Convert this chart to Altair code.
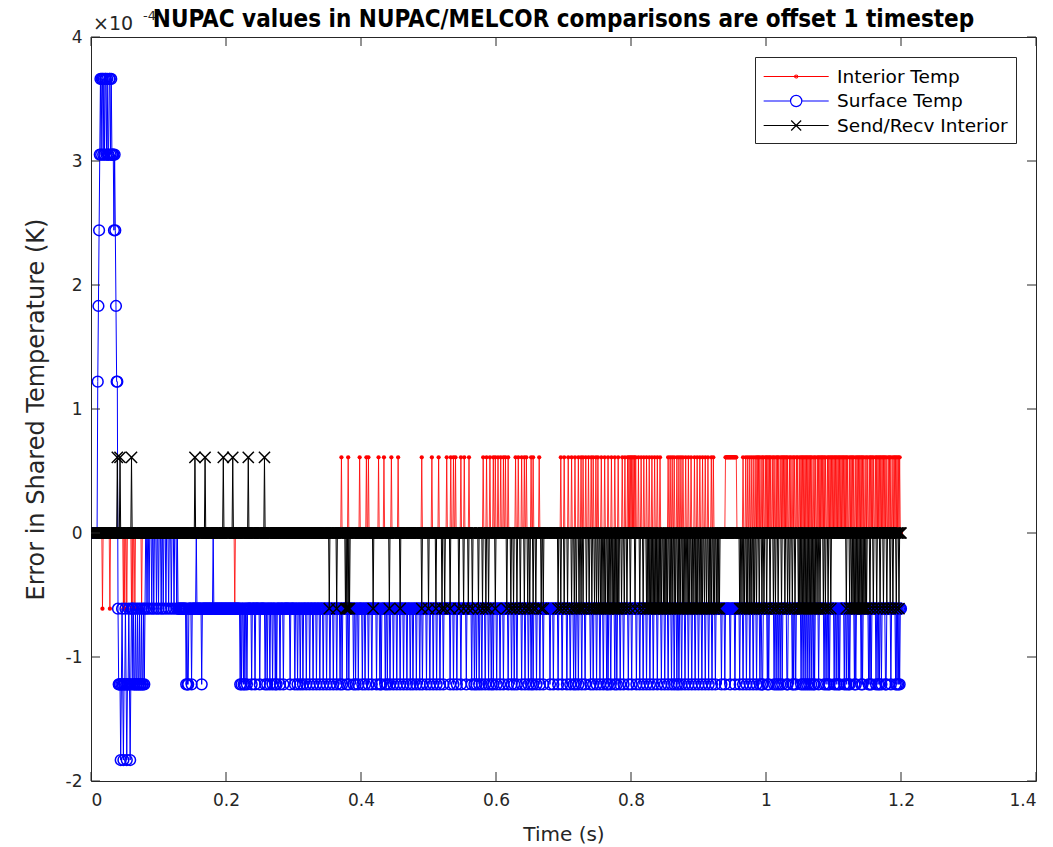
import altair as alt
import pandas as pd

# ---------------- data ----------------
# time axis of the sampled signals: one sample per millisecond, 0 .. 1.2 s
DT_S = 0.001
N_SAMPLES = 1201
# all errors are whole multiples of one quantum (2^-14 K), given in units of 1e-4 K
QUANTUM_E4 = 0.61035

SERIES_NAMES = ["Interior Temp", "Surface Temp", "Send/Recv Interior"]
SERIES_COLORS = ["#ff0000", "#0000ff", "#000000"]

TITLE = "NUPAC values in NUPAC/MELCOR comparisons are offset 1 timestep"
X_TICKS = [0, 0.2, 0.4, 0.6, 0.8, 1, 1.2, 1.4]
Y_TICKS = [-2, -1, 0, 1, 2, 3, 4]

# Interior Temp: baseline 0, samples (ms index) that sit one quantum above / below
RED_UP = [371, 381, 398, 408, 411, 426, 434, 445, 455, 490, 505, 515, 527, 533, 537, 540,
          548, 553, 560, 581, 586, 591, 596, 599, 603, 607, 611, 614, 618, 629, 633, 638,
          642, 645, 652, 655, 664, 696, 701, 707, 712, 717, 722, 726, 729, 733, 737, 741,
          744, 748, 751, 756, 761, 766, 771, 776, 781, 787, 791, 795, 797, 799, 801, 803,
          805, 807, 811, 815, 819, 823, 827, 831, 835, 839, 843, 855, 858, 861, 864, 868,
          871, 874, 877, 881, 885, 889, 894, 898, 902, 906, 910, 914, 919, 922,
          940, 941, 942, 943, 944, 945, 946, 947, 948, 949, 950, 951, 952, 953, 954, 955, 956,
          966, 970, 973, 976, 979, 982, 985, 987, 989, 991, 994, 996, 999, 1001, 1003, 1005,
          1007, 1010, 1012, 1015, 1017, 1019, 1022, 1024, 1026, 1028, 1030, 1032, 1035, 1037,
          1040, 1042, 1045, 1047, 1050, 1052, 1054, 1056, 1058, 1060, 1062, 1064, 1066, 1068,
          1071, 1073, 1076, 1078, 1080, 1082, 1084, 1086, 1088, 1091, 1093, 1095, 1097, 1099,
          1101, 1103, 1105, 1107, 1109, 1111, 1113, 1115, 1117, 1119, 1121, 1124, 1126, 1128,
          1130, 1133, 1135, 1137, 1139, 1141, 1143, 1145, 1148, 1150, 1153, 1155, 1157, 1159,
          1162, 1164, 1166, 1168, 1170, 1172, 1174, 1176, 1178, 1181, 1183, 1185, 1188, 1190,
          1192, 1194, 1196, 1198]
RED_DOWN = [17, 28, 48, 50, 53, 60, 62, 65, 75, 213]

# Send/Recv Interior: baseline 0
BLACK_UP = [39, 43, 60, 154, 169, 196, 210, 233, 257]
BLACK_DOWN = [353, 364, 377, 379, 381, 383, 418, 442, 458, 490, 500, 511, 520, 524, 532, 545,
              552, 559, 565, 574, 580, 585, 589, 599, 616, 622, 626, 631, 636, 642, 647, 650,
              655, 659, 667, 670, 692, 696, 701, 706, 712, 716, 719, 723, 726, 729, 734, 738,
              742, 746, 749, 752, 755, 757, 760, 762, 765, 767, 769, 772, 774, 776, 778, 780,
              782, 786, 790, 794, 799, 806, 813, 818, 823, 825, 827, 829, 831, 833, 835, 837,
              839, 841, 843, 845, 848, 850, 852, 854, 857, 859, 861, 864, 866, 869, 871, 873,
              876, 878, 880, 883, 885, 887, 890, 892, 895, 897, 899, 902, 904, 906, 909, 912,
              915, 917, 919, 922, 924, 927, 929, 931, 961, 963, 966, 968, 971, 973, 976, 978,
              981, 983, 986, 990, 994, 997, 1001, 1006, 1011, 1014, 1018, 1023, 1028, 1032,
              1035, 1039, 1043, 1048, 1050, 1052, 1054, 1056, 1058, 1060, 1062, 1064, 1066,
              1068, 1070, 1072, 1074, 1077, 1080, 1085, 1088, 1092, 1096, 1119, 1124, 1127,
              1129, 1131, 1133, 1135, 1137, 1139, 1141, 1143, 1145, 1147, 1149, 1154, 1159,
              1164, 1169, 1174, 1179, 1184, 1188, 1193, 1197]

# Surface Temp: first 131 samples in quanta, then baseline -1 quantum
BLUE_EARLY = [0, 0, 0, 0, 0, 0, 0, 0, 0, 0,
              2, 3, 4, 5, 6, 5, 6, 6, 5, 6,
              5, 6, 6, 5, 6, 5, 5, 6, 6, 5,
              6, 5, 5, 5, 4, 5, 4, 3, 2, 2,
              -1, -2, -2, -2, -3, -2, -1, -2, -3, -2,
              -2, -1, -2, -3, -2, -2, -1, -2, -3, -2,
              -1, -1, -2, -1, -2, -2, -1, -2, -2, -1,
              -2, -2, -1, -2, -2, -1, -2, -2, -1, -2,
              -1, 0, 0, -1, 0, 0, -1, 0, 0, 0,
              -1, 0, 0, -1, 0, 0, 0, -1, 0, 0,
              -1, 0, 0, 0, -1, 0, 0, -1, 0, 0,
              0, -1, 0, 0, 0, -1, 0, 0, 0, -1,
              0, 0, 0, -1, 0, 0, 0, -1, 0, -1,
              -1]
BLUE_BASE_LATE = -1
BLUE_DOWN2 = [141, 143, 144, 149, 164, 221, 223, 226, 228, 231, 238, 243, 250, 258, 261, 265,
              269, 273, 275, 280, 285, 295, 302, 306, 310, 314, 319, 324, 329, 334, 339, 344,
              349, 354, 359, 364, 369, 372, 379, 382, 389, 392, 396, 402, 406, 411, 416, 423,
              428, 430, 436, 439, 443, 448, 453, 458, 463, 468, 473, 477, 482, 487, 491, 497,
              502, 507, 512, 517, 522, 532, 537, 542, 548, 556, 564, 568, 571, 575, 579, 584,
              589, 593, 596, 601, 606, 611, 618, 623, 627, 631, 638, 643, 648, 652, 655, 660,
              665, 670, 680, 685, 692, 698, 705, 710, 715, 718, 722, 727, 732, 740, 744, 749,
              754, 759, 764, 766, 770, 776, 779, 784, 789, 796, 801, 808, 813, 818, 823, 828,
              833, 839, 845, 850, 855, 860, 864, 868, 871, 875, 880, 885, 890, 895, 900, 905,
              910, 915, 920, 925, 934, 939, 947, 954, 961, 966, 971, 976, 981, 986, 991, 994,
              995, 1002, 1004, 1012, 1015, 1018, 1021, 1024, 1031, 1032, 1039, 1041, 1044,
              1052, 1055, 1058, 1061, 1064, 1067, 1070, 1072, 1078, 1086, 1089, 1092, 1094,
              1101, 1104, 1107, 1109, 1116, 1119, 1122, 1124, 1131, 1133, 1141, 1143, 1152,
              1154, 1156, 1163, 1166, 1168, 1171, 1177, 1178, 1185, 1192, 1194, 1196, 1198]
BLUE_UP0 = [156, 181]

# ---------------- assemble sample tables ----------------
times = [round(i * DT_S, 3) for i in range(N_SAMPLES)]


def frame(levels):
    return pd.DataFrame({"t": times, "v": [lv * QUANTUM_E4 for lv in levels]})


red_lv = [0] * N_SAMPLES
for i in RED_UP:
    red_lv[i] = 1
for i in RED_DOWN:
    red_lv[i] = -1

black_lv = [0] * N_SAMPLES
for i in BLACK_UP:
    black_lv[i] = 1
for i in BLACK_DOWN:
    black_lv[i] = -1

blue_lv = list(BLUE_EARLY) + [BLUE_BASE_LATE] * (N_SAMPLES - len(BLUE_EARLY))
for i in BLUE_DOWN2:
    blue_lv[i] = -2
for i in BLUE_UP0:
    blue_lv[i] = 0

df_red, df_blue, df_black = frame(red_lv), frame(blue_lv), frame(black_lv)

# ---------------- chart ----------------
W, H = 945, 744
AX = "#262626"
FONT = "DejaVu Sans"

xscale = alt.Scale(domain=[0, 1.4], nice=False, zero=False)
yscale = alt.Scale(domain=[-2, 4], nice=False, zero=False)

x_axis = alt.Axis(values=X_TICKS, labelExpr="'' + datum.value", title="Time (s)",
                  ticks=False, domain=False, grid=False, labelPadding=11,
                  labelFont=FONT, labelFontSize=17, labelColor=AX,
                  titleFont=FONT, titleFontSize=20, titleFontWeight="normal", titleColor=AX,
                  titleX=W / 2, titleY=59, titleBaseline="alphabetic")
y_axis = alt.Axis(values=Y_TICKS, labelExpr="'' + datum.value",
                  title="Error in Shared Temperature (K)",
                  ticks=False, domain=False, grid=False, labelPadding=9,
                  labelFont=FONT, labelFontSize=17, labelColor=AX,
                  titleFont=FONT, titleFontSize=24, titleFontWeight="normal", titleColor=AX,
                  titleX=-55, titleY=H / 2, titleAngle=270, titleBaseline="middle")

X_PATH = "M-1,-1L1,1M1,-1L-1,1"

red_line = alt.Chart(df_red).mark_line(color=SERIES_COLORS[0], strokeWidth=0.8, clip=True).encode(
    x=alt.X("t:Q", scale=xscale, axis=x_axis), y=alt.Y("v:Q", scale=yscale, axis=y_axis))
red_pts = alt.Chart(df_red).mark_point(shape="circle", filled=True, size=18, opacity=1,
                                       color=SERIES_COLORS[0], clip=True).encode(
    x="t:Q", y="v:Q")
blue_line = alt.Chart(df_blue).mark_line(color=SERIES_COLORS[1], strokeWidth=1.0, clip=True).encode(
    x="t:Q", y="v:Q")
blue_pts = alt.Chart(df_blue).mark_point(shape="circle", filled=False, size=115, opacity=1,
                                         strokeWidth=1.5, color=SERIES_COLORS[1], clip=True).encode(
    x="t:Q", y="v:Q")
black_line = alt.Chart(df_black).mark_line(color=SERIES_COLORS[2], strokeWidth=1.0, clip=True).encode(
    x="t:Q", y="v:Q")
black_pts = alt.Chart(df_black).mark_point(shape=X_PATH, filled=False, size=125, opacity=1,
                                           strokeWidth=1.5, color=SERIES_COLORS[2], clip=True).encode(
    x="t:Q", y="v:Q")

# inward tick marks on all four sides of the box
df_xt = pd.DataFrame({"t": X_TICKS})
df_yt = pd.DataFrame({"v": Y_TICKS})
tick_style = dict(color=AX, strokeWidth=1)
xt_bottom = alt.Chart(df_xt).mark_rule(**tick_style).encode(x="t:Q", y=alt.value(H), y2=alt.value(H - 9))
xt_top = alt.Chart(df_xt).mark_rule(**tick_style).encode(x="t:Q", y=alt.value(0), y2=alt.value(9))
yt_left = alt.Chart(df_yt).mark_rule(**tick_style).encode(y="v:Q", x=alt.value(0), x2=alt.value(9))
yt_right = alt.Chart(df_yt).mark_rule(**tick_style).encode(y="v:Q", x=alt.value(W), x2=alt.value(W - 9))

# legend symbols: line with marker (path unit = sqrt(symbolSize)/2)
LEG_SIZE = 470
LEG_PATHS = [
    "M-1,0L5,0M2.14,0A0.14,0.14 0 1,1 1.86,0A0.14,0.14 0 1,1 2.14,0",
    "M-1,0L1.5,0M2.5,0L5,0M2.52,0A0.52,0.52 0 1,1 1.48,0A0.52,0.52 0 1,1 2.52,0",
    "M-1,0L5,0M1.54,-0.46L2.46,0.46M2.46,-0.46L1.54,0.46",
]
df_leg = pd.DataFrame({"series": SERIES_NAMES, "t": [-1, -1, -1], "v": [0, 0, 0]})
legend_layer = alt.Chart(df_leg).mark_point(filled=False, size=LEG_SIZE, opacity=1, strokeWidth=1.2,
                                            clip=True).encode(
    x="t:Q", y="v:Q",
    color=alt.Color("series:N", scale=alt.Scale(domain=SERIES_NAMES, range=SERIES_COLORS),
                    legend=alt.Legend(title=None, orient="none", legendX=664, legendY=20,
                                      symbolSize=LEG_SIZE, symbolStrokeWidth=1.2,
                                      labelFontSize=18.5, labelFont=FONT, labelColor="#000",
                                      labelLimit=400,
                                      labelOffset=51, rowPadding=3.5, padding=8,
                                      strokeColor=AX, fillColor="white",
                                      symbolFillColor="transparent")),
    shape=alt.Shape("series:N", scale=alt.Scale(domain=SERIES_NAMES, range=LEG_PATHS)),
)

one = pd.DataFrame({"k": [0]})
title_txt = alt.Chart(one).mark_text(text=TITLE, align="center", baseline="alphabetic", fontSize=24,
                                     fontWeight="bold", color="#000",
                                     font="Liberation Sans Narrow, DejaVu Sans Condensed, sans-serif"
                                     ).encode(x=alt.value(W / 2), y=alt.value(-10))
exp_base = alt.Chart(one).mark_text(text="×10", align="left", baseline="alphabetic", fontSize=19,
                                    font=FONT, color=AX).encode(x=alt.value(2), y=alt.value(-7))
exp_pow = alt.Chart(one).mark_text(text="-4", align="left", baseline="alphabetic", fontSize=13,
                                   font=FONT, color=AX).encode(x=alt.value(52), y=alt.value(-17))

chart = alt.layer(
    red_line, red_pts, blue_line, blue_pts, black_line, black_pts,
    xt_bottom, xt_top, yt_left, yt_right, legend_layer, exp_base, exp_pow, title_txt,
).properties(
    width=W, height=H,
    autosize=alt.AutoSizeParams(type="none"),
    padding={"left": 91, "top": 37, "right": 17, "bottom": 66},
    background="white",
).configure_view(
    stroke=AX, strokeWidth=1,
)

chart.save("out.html", embed_options={"renderer": "svg", "actions": False})
